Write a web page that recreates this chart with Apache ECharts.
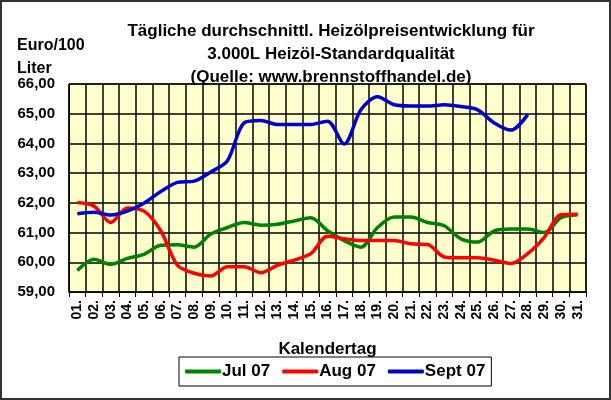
<!DOCTYPE html>
<html>
<head>
<meta charset="utf-8">
<script src="https://cdn.jsdelivr.net/npm/echarts@6/dist/echarts.min.js"></script>
<style>
  html, body { margin: 0; padding: 0; background: #fff; }
  #chart { width: 611px; height: 400px; box-sizing: border-box; border: 2px solid #333; }
</style>
</head>
<body>
<div id="chart"></div>
<script>
const days = ['01.','02.','03.','04.','05.','06.','07.','08.','09.','10.','11.','12.','13.','14.','15.','16.',
  '17.','18.','19.','20.','21.','22.','23.','24.','25.','26.','27.','28.','29.','30.','31.']
const jul07 = [59.72,60.10,59.93,60.13,60.27,60.57,60.59,60.51,60.95,61.17,61.34,61.25,61.28,61.39,61.50,61.06,
  60.73,60.51,61.17,61.52,61.52,61.34,61.23,60.79,60.68,61.06,61.12,61.12,61.00,61.50,61.60]
const aug07 = [62.01,61.89,61.34,61.83,61.72,61.06,59.90,59.63,59.54,59.85,59.85,59.65,59.90,60.07,60.29,60.88,
  60.79,60.73,60.73,60.73,60.62,60.60,60.18,60.15,60.15,60.07,59.96,60.29,60.84,61.60,61.62]
const sep07 = [61.63,61.68,61.59,61.72,61.99,62.38,62.69,62.73,63.04,63.42,64.69,64.77,64.64,64.64,64.64,64.75,
  63.98,65.13,65.57,65.30,65.26,65.26,65.30,65.24,65.13,64.69,64.45,64.97]

const font = 'Liberation Sans, Arial, sans-serif'
const chart = echarts.init(document.getElementById('chart'))
const line = (name, data, color) => ({
  name, type: 'line', data, symbol: 'none', smooth: 0.3,
  lineStyle: { color, width: 3.5 }, itemStyle: { color }
})
chart.setOption({
  animation: false,
  backgroundColor: '#fff',
  title: {
    text: 'Tägliche durchschnittl. Heizölpreisentwicklung für\n3.000L Heizöl-Standardqualität\n(Quelle: www.brennstoffhandel.de)',
    left: 324, top: 13, textAlign: 'center',
    textStyle: { fontFamily: font, fontSize: 17, fontWeight: 'bold', lineHeight: 23, color: '#000' }
  },
  graphic: [{
    type: 'text', left: 15, top: 32,
    style: { text: 'Euro/100\nLiter', font: 'bold 16px ' + font, lineHeight: 23, align: 'center', fill: '#000', x: 38 }
  }],
  legend: {
    data: ['Jul 07', 'Aug 07', 'Sept 07'],
    left: 177, top: 355, width: 323, height: 32,
    itemWidth: 36, itemHeight: 4, itemGap: 12, padding: [6, 6],
    borderColor: '#000', borderWidth: 1,
    icon: 'roundRect',
    textStyle: { fontFamily: font, fontSize: 17, fontWeight: 'bold', color: '#000', padding: [0, 0, 0, -4] }
  },
  grid: { left: 67, right: 23, top: 82, bottom: 106, backgroundColor: '#ffffcc', show: true, borderColor: '#000', borderWidth: 1 },
  xAxis: {
    type: 'category', data: days, boundaryGap: true,
    name: 'Kalendertag', nameLocation: 'middle', nameGap: 49,
    nameTextStyle: { fontFamily: font, fontSize: 17, fontWeight: 'bold', color: '#000' },
    axisLine: { lineStyle: { color: '#000' } },
    axisTick: { show: true, length: 5, lineStyle: { color: '#000' } },
    splitLine: { show: true, lineStyle: { color: '#000', width: 1.5 } },
    axisLabel: { rotate: 90, interval: 0, fontFamily: font, fontSize: 14, fontWeight: 'bold', color: '#000', margin: 8 }
  },
  yAxis: {
    type: 'value', min: 59, max: 66, interval: 1,
    axisLine: { show: true, lineStyle: { color: '#000' } },
    axisTick: { show: false },
    splitLine: { lineStyle: { color: '#000', width: 1.5 } },
    axisLabel: { fontFamily: font, fontSize: 15, fontWeight: 'bold', color: '#000', margin: 14,
      formatter: v => v.toFixed(2).replace('.', ',') }
  },
  series: [
    line('Jul 07', jul07, '#008000'),
    line('Aug 07', aug07, '#ff0000'),
    line('Sept 07', sep07, '#0000cc')
  ]
})
</script>
</body>
</html>
